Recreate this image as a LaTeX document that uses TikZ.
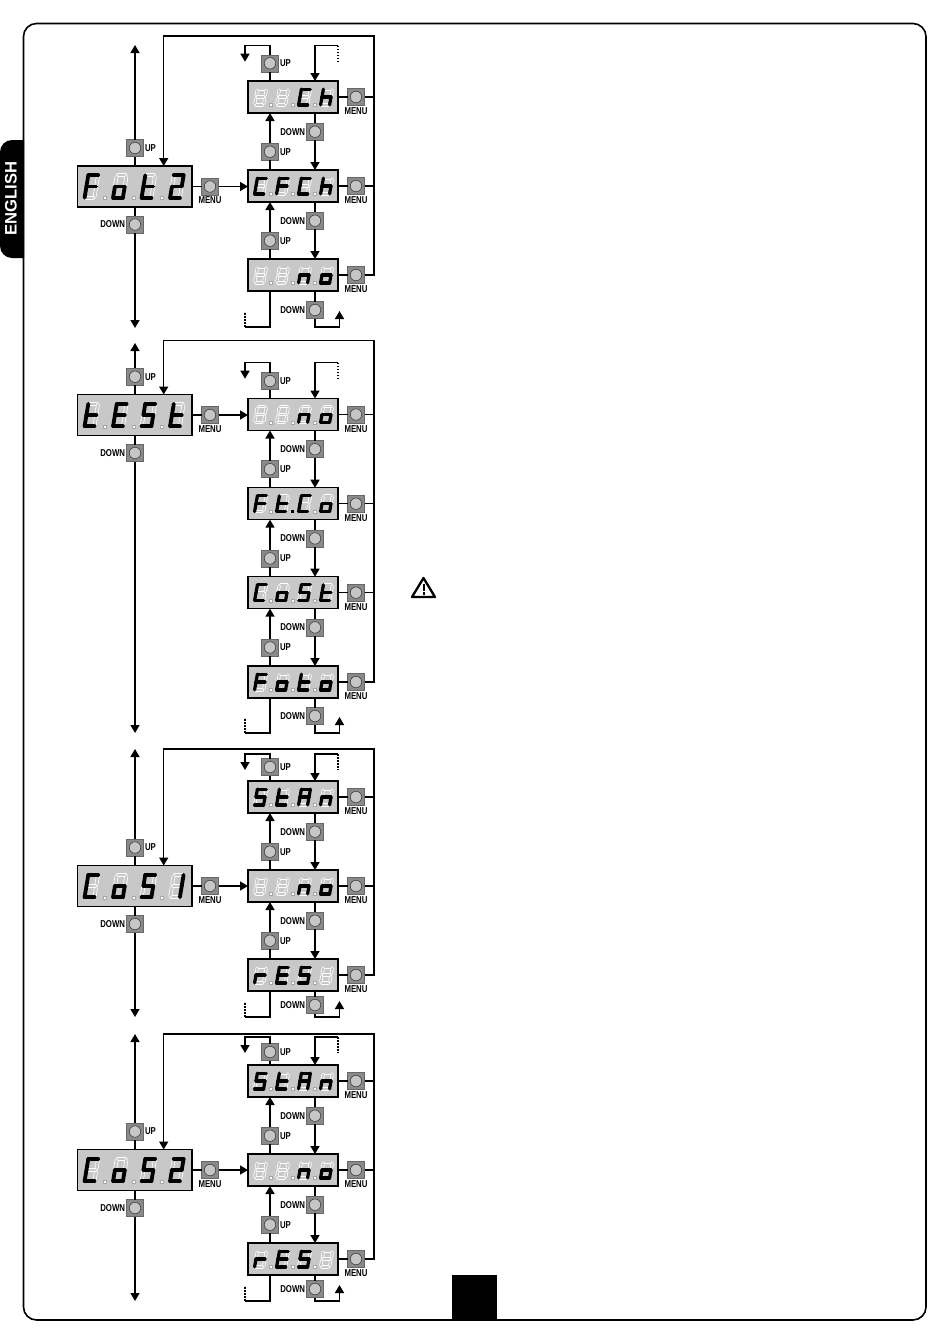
\documentclass[tikz,border=0pt]{standalone}
\usepackage{fontspec}
\setmainfont{Liberation Sans}
\newfontfamily\lblfont{Liberation Sans}[FakeStretch=0.78]
\usetikzlibrary{arrows.meta}
\definecolor{dispgray}{HTML}{C8C8C8}
\definecolor{btngray}{HTML}{8A8A8A}
\definecolor{lampgray}{HTML}{C6C6C6}
\tikzset{
  bigbox/.style={draw=black,line width=1.5pt,fill=dispgray,inner sep=0pt,outer sep=0pt,minimum width=114.5pt,minimum height=41pt},
  smallbox/.style={draw=black,line width=1.4pt,fill=dispgray,inner sep=0pt,outer sep=0pt,minimum width=90pt,minimum height=32pt},
  btnbox/.style={draw=btngray!75!black,line width=.5pt,fill=btngray,inner sep=0pt,outer sep=0pt,minimum size=17pt},
  btnlamp/.style={circle,draw=black!75,line width=.6pt,fill=lampgray,inner sep=0pt,minimum size=11.5pt},
  lbl/.style={inner sep=0pt,font=\lblfont\bfseries\fontsize{10}{10}\selectfont},
  conn/.style={line width=1.5pt,draw=black},
  arr/.style={conn,-{Triangle[length=8pt,width=9pt]}},
  dashend/.style={conn,dash pattern=on 1.6pt off 1.4pt},
  segon/.style={draw=black,line width=\sgL pt,line cap=round},
  segoffa/.style={draw=white,line width=\sgL pt,line cap=round,shorten >=1.3pt,shorten <=1.3pt},
  segoffb/.style={draw=dispgray,line width=\sgL pt-1.5pt,line cap=round,shorten >=1.3pt,shorten <=1.3pt},
}
\newcommand\sg[3]{\ifnum#1=\segmode\relax
  \ifnum#1=1 \draw[segon] (#2) -- (#3);\else
  \draw[segoffa] (#2) -- (#3);\draw[segoffb] (#2) -- (#3);\fi\fi}
\def\segset#1#2#3#4#5#6#7{%
  \sg{#1}{tl}{tr}\sg{#2}{tr}{mr}\sg{#3}{mr}{br}\sg{#4}{br}{bl}\sg{#5}{bl}{ml}\sg{#6}{ml}{tl}\sg{#7}{ml}{mr}}
\def\segs#1#2#3#4#5#6#7{%
  \coordinate (tl) at (\sgK,0);\coordinate (tr) at (\sgK+\sgW,0);
  \coordinate (ml) at (\sgK/2,\sgH/2);\coordinate (mr) at (\sgK/2+\sgW,\sgH/2);
  \coordinate (bl) at (0,\sgH);\coordinate (br) at (\sgW,\sgH);
  \def\segmode{0}\segset{#1}{#2}{#3}{#4}{#5}{#6}{#7}%
  \def\segmode{1}\segset{#1}{#2}{#3}{#4}{#5}{#6}{#7}}
\def\dgF{\segs1000111}
\def\dgo{\segs0011101}
\def\dgt{\segs0001111}
\def\dgC{\segs1001110}
\def\dgh{\segs0010111}
\def\dgn{\segs0010101}
\def\dgE{\segs1001111}
\def\dgS{\segs1011011}
\def\dgA{\segs1110111}
\def\dgr{\segs0000101}
\def\dgx{\segs0000000}
\def\dgone{\segs0110000}
\def\dgtwo{\segs1101101}
% dots: x, y, lit
\newcommand\segdot[3]{\ifnum#3=1 \fill[black] (#1-1.6,#2-1.6) rectangle (#1+1.6,#2+1.6);
  \else\draw[fill=white,draw=black!35,line width=.4pt] (#1-1.4,#2-1.4) rectangle (#1+1.4,#2+1.4);\fi}
\newcommand\fourdig[7]{% x0,y0,pitch,d1,d2,d3,d4
  \begin{scope}[shift={(#1,#2)}]#4\end{scope}
  \begin{scope}[shift={(#1+#3,#2)}]#5\end{scope}
  \begin{scope}[shift={(#1+2*#3,#2)}]#6\end{scope}
  \begin{scope}[shift={(#1+3*#3,#2)}]#7\end{scope}}
\newcommand\bigdisp[6]{% name,y,digits
  \node[bigbox] (#1) at (134.75,#2) {};
  \def\sgW{9.8}\def\sgH{22.4}\def\sgK{3.7}\def\sgL{3.8}
  \fourdig{84.6}{#2-11.2}{28.5}{#3}{#4}{#5}{#6}
  \foreach \n in {0,1,2}{\segdot{105+28.5*\n}{#2+11.5}{0}}}
\newcommand\smalldisp[7][0]{% [lit middle dot],name,y,digits
  \node[smallbox] (#2) at (293,#3) {};
  \def\sgW{9}\def\sgH{15.8}\def\sgK{2.8}\def\sgL{3.2}
  \fourdig{254.6}{#3-7.9}{22}{#4}{#5}{#6}{#7}
  \segdot{270.7}{#3+8}{0}\segdot{292.7}{#3+8}{#1}\segdot{314.7}{#3+8}{0}}
\newcommand\btn[3]{\node[btnbox] (#1) at (#2,#3) {};\node[btnlamp] (#1l) at (#1) {};}
% main unit: P,upY,downY,arrowTop,arrowBot,target,mainY
\newcommand\mainunit[7]{%
  \btn{#1up}{135}{#2}\node[lbl] (#1upt) at (150.5,#2) {UP};
  \btn{#1dn}{135}{#3}\node[lbl] (#1dnt) at (112.7,#3) {DOWN};
  \btn{#1mn}{210}{#7}\node[lbl] (#1mnt) at (210,#7+14) {MENU};
  \coordinate (#1at) at (135,#4);\coordinate (#1ab) at (135,#5);
  \draw[conn] (#1big.north -| #1up) -- (#1up.south);
  \draw[arr] (#1up.north) -- (#1at);
  \draw[conn] (#1big.south -| #1dn) -- (#1dn.north);
  \draw[arr] (#1dn.south) -- (#1ab);
  \draw[conn] (#1big.east |- #1mn) -- (#1mn.west);
  \draw[arr] (#1mn.east) -- (#1mn.east -| #6.west);}
% menu of a small display: d,Y
\newcommand\smallmenu[2]{%
  \btn{#1m}{356}{#2}\node[lbl] (#1mt) at (356,#2+14.3) {MENU};
  \draw[conn] (#1.east |- #1m) -- (#1m.west);}
% link between displays: upperName, lowerName, upperY
\newcommand\dslink[3]{%
  \btn{#1dn}{315}{#3+34.7}\node[lbl] (#1dnt) at (292.7,#3+34.7) {DOWN};
  \btn{#2up}{270}{#3+54.7}\node[lbl] (#2upt) at (285.5,#3+54.7) {UP};
  \draw[conn] (#2.north -| #2up) -- (#2up.south);
  \draw[arr] (#2up.north) -- (#1.south -| #2up);
  \draw[conn] (#1.south -| #1dn) -- (#1dn.north);
  \draw[arr] (#1dn.south) -- (#2.north -| #1dn);}
% top loops: first display, Y-of-up, loopY
\newcommand\toploops[3]{%
  \btn{#1up}{270}{#2}\node[lbl] (#1upt) at (285.5,#2) {UP};
  \coordinate (#1la) at (270,#3);\coordinate (#1lb) at (245,#3);\coordinate (#1lc) at (245,#3+16);
  \coordinate (#1ra) at (315,#3);\coordinate (#1rb) at (338,#3);\coordinate (#1rc) at (338,#3+16);
  \draw[conn] (#1.north -| #1up) -- (#1up.south);
  \draw[arr] (#1up.north) -- (#1la) -- (#1lb) -- (#1lc);
  \draw[arr] (#1rb) -- (#1ra) -- (#1.north -| #1ra);
  \draw[dashend] (#1rb) -- (#1rc);}
% bottom loops: last display, Y-of-down, bottomY
\newcommand\botloops[3]{%
  \btn{#1dn}{315}{#2}\node[lbl] (#1dnt) at (292.7,#2) {DOWN};
  \coordinate (#1la) at (270,#3);\coordinate (#1lb) at (245,#3);\coordinate (#1lc) at (245,#3-15);
  \coordinate (#1ra) at (315,#3);\coordinate (#1rb) at (339.5,#3);\coordinate (#1rc) at (339.5,#3-16);
  \draw[conn] (#1.south -| #1la) -- (#1la) -- (#1lb);
  \draw[dashend] (#1lb) -- (#1lc);
  \draw[conn] (#1.south -| #1dn) -- (#1dn.north);
  \draw[arr] (#1dn.south) -- (#1ra) -- (#1rb) -- (#1rc);}
% rail: P,lineY, menu button of last display
\newcommand\rail[3]{%
  \coordinate (#1c1) at (163.7,#2);\coordinate (#1c2) at (374,#2);
  \draw[arr] (#3.east) -- (#3.east -| #1c2) -- (#1c2) -- (#1c1) -- (#1c1 |- #1big.north);}
\newcommand\railtap[2]{\draw[conn] (#2.east) -- (#2.east -| #1c2);}
\begin{document}
\begin{tikzpicture}[x=1pt,y=-1pt]
\useasboundingbox (0,0) rectangle (950,1344);
\fill[white] (0,0) rectangle (950,1344);
% language tab
\fill[black] (24,140) [rounded corners=12pt] -- (0,140) -- (0,258) [sharp corners] -- (24,258) -- cycle;
\node[rotate=90,text=white,inner sep=0pt,font=\bfseries\fontsize{16.6}{17}\selectfont] (lang) at (10.8,198.5) {ENGLISH};
% page frame
\draw[line width=1.6pt,rounded corners=13pt] (23.5,23.5) rectangle (926,1320);
\fill[black] (452,1275) rectangle (497,1320);
% warning sign
\draw[line width=2.3pt,line join=round] (423.5,578) -- (435,597) -- (412,597) -- cycle;
\draw[line width=2pt] (423.5,584) -- (423.5,591);
\fill (422.5,592.3) rectangle (424.5,594.5);

% ===== block 1
\bigdisp{abig}{186.5}{\dgF}{\dgo}{\dgt}{\dgtwo}
\smalldisp{aa}{97}{\dgx}{\dgx}{\dgC}{\dgh}
\smalldisp{ab}{186}{\dgC}{\dgF}{\dgC}{\dgh}
\smalldisp{ac}{275}{\dgx}{\dgx}{\dgn}{\dgo}
\mainunit{a}{148}{224.5}{45}{328}{ab}{186.5}
\toploops{aa}{63.3}{45.7}
\dslink{aa}{ab}{97}
\dslink{ab}{ac}{186}
\botloops{ac}{310}{327}
\smallmenu{aa}{97}\smallmenu{ab}{186}\smallmenu{ac}{275}
\rail{a}{36}{acm}
\railtap{a}{aam}\railtap{a}{abm}

% ===== block 2
\bigdisp{bbig}{415}{\dgt}{\dgE}{\dgS}{\dgt}
\smalldisp{ba}{414.5}{\dgx}{\dgx}{\dgn}{\dgo}
\smalldisp[1]{bb}{503.7}{\dgF}{\dgt}{\dgC}{\dgo}
\smalldisp{bc}{592.7}{\dgC}{\dgo}{\dgS}{\dgt}
\smalldisp{bd}{682}{\dgF}{\dgo}{\dgt}{\dgo}
\mainunit{b}{376.7}{453}{343}{733}{ba}{415}
\toploops{ba}{381}{362.7}
\dslink{ba}{bb}{414.5}
\dslink{bb}{bc}{503.7}
\dslink{bc}{bd}{592.7}
\botloops{bd}{716}{733}
\smallmenu{ba}{414.5}\smallmenu{bb}{503.7}\smallmenu{bc}{592.7}\smallmenu{bd}{682}
\rail{b}{340.7}{bdm}
\railtap{b}{bam}\railtap{b}{bbm}\railtap{b}{bcm}

% ===== block 3
\bigdisp{cbig}{886}{\dgC}{\dgo}{\dgS}{\dgone}
\smalldisp{ca}{797}{\dgS}{\dgt}{\dgA}{\dgn}
\smalldisp{cb}{886}{\dgx}{\dgx}{\dgn}{\dgo}
\smalldisp{cc}{975}{\dgr}{\dgE}{\dgS}{\dgx}
\mainunit{c}{847.5}{924}{749}{1017}{cb}{886}
\toploops{ca}{767}{754}
\dslink{ca}{cb}{797}
\dslink{cb}{cc}{886}
\botloops{cc}{1005}{1017}
\smallmenu{ca}{797}\smallmenu{cb}{886}\smallmenu{cc}{975}
\rail{c}{749}{ccm}
\railtap{c}{cam}\railtap{c}{cbm}

% ===== block 4
\bigdisp{dbig}{1170}{\dgC}{\dgo}{\dgS}{\dgtwo}
\smalldisp{da}{1081}{\dgS}{\dgt}{\dgA}{\dgn}
\smalldisp{db}{1170}{\dgx}{\dgx}{\dgn}{\dgo}
\smalldisp{dc}{1259}{\dgr}{\dgE}{\dgS}{\dgx}
\mainunit{d}{1131.5}{1208}{1034}{1301}{db}{1170}
\toploops{da}{1052}{1037}
\dslink{da}{db}{1081}
\dslink{db}{dc}{1170}
\botloops{dc}{1289}{1301}
\smallmenu{da}{1081}\smallmenu{db}{1170}\smallmenu{dc}{1259}
\rail{d}{1034}{dcm}
\railtap{d}{dam}\railtap{d}{dbm}
\end{tikzpicture}
\end{document}
